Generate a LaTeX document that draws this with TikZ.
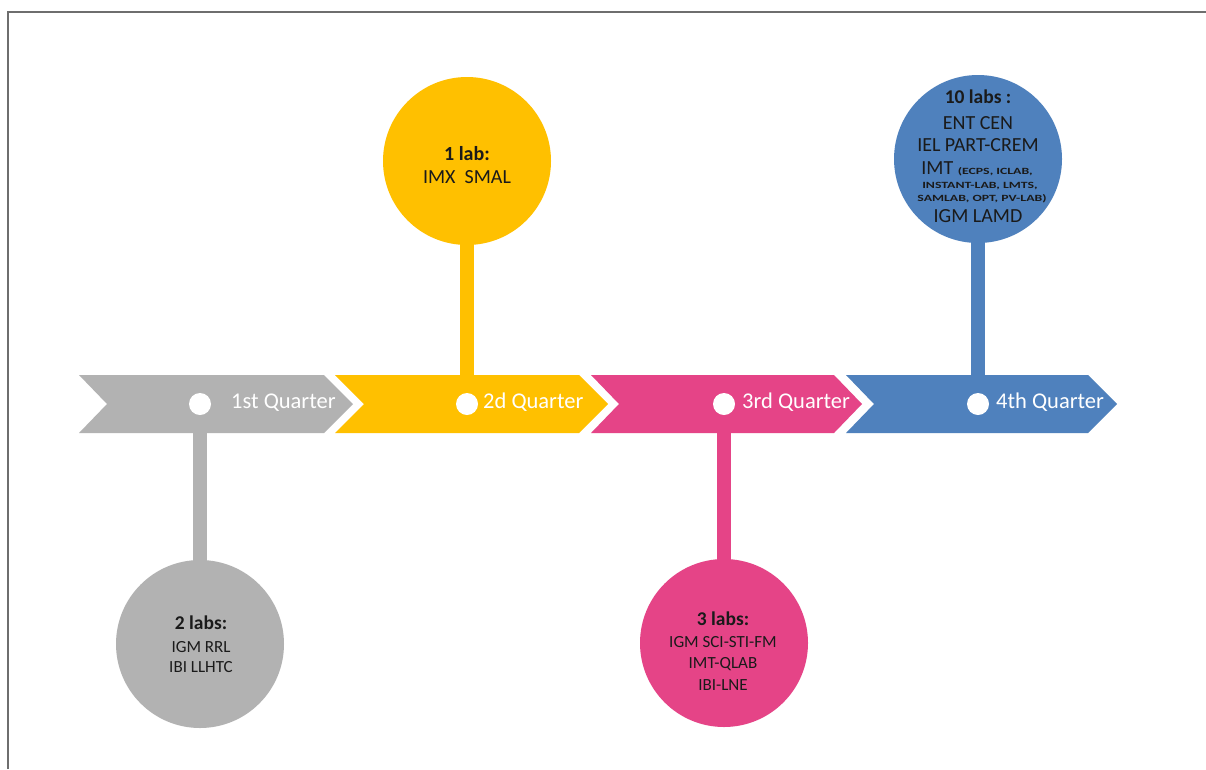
\documentclass[tikz,border=0pt]{standalone}
\usepackage{fontspec}
\setmainfont{Carlito}
\usepackage{graphicx}
\pgfdeclarelayer{background}
\pgfsetlayers{background,main}
\definecolor{qgray}{HTML}{B2B2B2}
\definecolor{qyellow}{HTML}{FFC000}
\definecolor{qpink}{HTML}{E54487}
\definecolor{qblue}{HTML}{4F81BD}
\definecolor{qframe}{HTML}{6E6E6E}
\definecolor{qtext}{HTML}{1A1A1A}
\newcommand\mysmalltxt[1]{\scalebox{1.45}[1]{\fontsize{9.5}{10}\selectfont\bfseries #1}}
\tikzset{
  framedraw/.style={draw=qframe, line width=1.5pt},
  bubble/.style={circle, fill=#1, minimum size=168pt, inner sep=0pt},
  qdot/.style={circle, fill=white, minimum size=22pt, inner sep=0pt},
  stemline/.style={draw=#1, line width=14pt, shorten <=-3pt, shorten >=-3pt},
  chevfill/.style={fill=#1},
  lab/.style={inner sep=0pt, anchor=base, text=qtext},
  head/.style={lab, font=\fontsize{19.5}{20}\selectfont\bfseries},
  body/.style={lab, font=\fontsize{17}{20}\selectfont},
  bigbody/.style={lab, font=\fontsize{20}{22}\selectfont},
  qlab/.style={inner sep=0pt, anchor=base west, text=white, font=\fontsize{22.5}{24}\selectfont}
}
\begin{document}
\begin{tikzpicture}[x=1pt,y=-1pt]
\useasboundingbox (0,0) rectangle (1206,769);

% bubbles
\node[bubble=qgray] (k1) at (200,644) {};
\node[bubble=qyellow] (k2) at (467,161) {};
\node[bubble=qpink] (k3) at (724,643) {};
\node[bubble=qblue] (k4) at (978,159) {};

% dots
\node[qdot] (d1) at (200,404) {};
\node[qdot] (d2) at (467,404) {};
\node[qdot] (d3) at (724,404) {};
\node[qdot] (d4) at (978,404) {};

\begin{pgfonlayer}{background}
  \fill[white] (0,0) rectangle (1206,769);
  \draw[framedraw] (8,769) -- (8,12) -- (1206,12);
  \draw[stemline=qgray] (k1) -- (d1);
  \draw[stemline=qyellow] (k2) -- (d2);
  \draw[stemline=qpink] (k3) -- (d3);
  \draw[stemline=qblue] (k4) -- (d4);
  \fill[chevfill=qgray] (79,375) -- (324,375) -- (353,404) -- (324,433) -- (79,433) -- (107,404) -- cycle;
  \fill[chevfill=qyellow] (335,375) -- (579,375) -- (608,404) -- (579,433) -- (335,433) -- (364,404) -- cycle;
  \fill[chevfill=qpink] (591,375) -- (834,375) -- (862,404) -- (834,433) -- (591,433) -- (619,404) -- cycle;
  \fill[chevfill=qblue] (846,375) -- (1088,375) -- (1117,404) -- (1088,433) -- (846,433) -- (874,404) -- cycle;
\end{pgfonlayer}

% quarter labels
\node[qlab] (q1) at (231,408) {1st Quarter};
\node[qlab] (q2) at (483,408) {2d Quarter};
\node[qlab] (q3) at (742,408) {3rd Quarter};
\node[qlab] (q4) at (996,408) {4th Quarter};

% gray bubble text
\node[head] (g1) at (201,629) {2 labs:};
\node[body] (g2) at (201,652.5) {IGM RRL};
\node[body] (g3) at (201,672.5) {IBI LLHTC};

% yellow bubble text
\node[lab, font=\fontsize{20}{22}\selectfont\bfseries] (y1) at (467,160.5) {1 lab:};
\node[bigbody] (y2) at (467,183.5) {IMX\ \ SMAL};

% pink bubble text
\node[head] (p1) at (723,625) {3 labs:};
\node[body] (p2) at (723,647.5) {IGM SCI-STI-FM};
\node[body] (p3) at (723,668.5) {IMT-QLAB};
\node[body] (p4) at (723,690.5) {IBI-LNE};

% blue bubble text
\node[head] (b1) at (978,103) {10 labs :};
\node[bigbody] (b2) at (978,129.5) {ENT CEN};
\node[bigbody] (b3) at (978,151.5) {IEL PART-CREM};
\node[bigbody] (b4) at (977,174) {IMT \mysmalltxt{(ECPS, ICLAB,}};
\node[lab] (b5) at (980,188) {\mysmalltxt{INSTANT-LAB, LMTS,}};
\node[lab] (b6) at (982,201) {\mysmalltxt{SAMLAB, OPT, PV-LAB)}};
\node[bigbody] (b7) at (978,222.5) {IGM LAMD};
\end{tikzpicture}
\end{document}
